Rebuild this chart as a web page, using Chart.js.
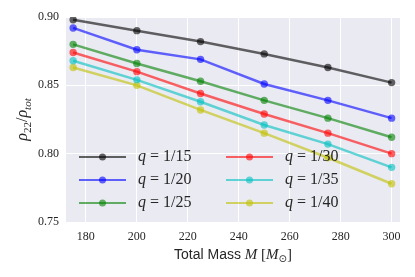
<!DOCTYPE html>
<html>
<head>
<meta charset="utf-8">
<script src="https://cdn.jsdelivr.net/npm/chart.js@4.4.1/dist/chart.umd.min.js"></script>
<style>
  html, body { margin: 0; padding: 0; background: #fff; }
  #wrap { width: 415px; height: 277px; }
</style>
</head>
<body>
<div id="wrap"><canvas id="chart" width="415" height="277"></canvas></div>
<script>
// total mass (solar masses)
const masses = [175, 200, 225, 250, 275, 300];

const ratioLabels = ["q = 1/15", "q = 1/20", "q = 1/25", "q = 1/30", "q = 1/35", "q = 1/40"];

// rho_22 / rho_tot per mass ratio
const q15 = [0.898, 0.890, 0.882, 0.873, 0.863, 0.852];
const q20 = [0.892, 0.876, 0.869, 0.851, 0.839, 0.826];
const q25 = [0.880, 0.866, 0.853, 0.839, 0.826, 0.812];
const q30 = [0.874, 0.860, 0.844, 0.829, 0.815, 0.800];
const q35 = [0.868, 0.854, 0.838, 0.821, 0.807, 0.790];
const q40 = [0.863, 0.850, 0.832, 0.815, 0.797, 0.778];

const xTicks = [180, 200, 220, 240, 260, 280, 300];
const yTicks = [0.75, 0.80, 0.85, 0.90];

const series = [q15, q20, q25, q30, q35, q40];
const colors = [
  "rgba(0,0,0,0.6)",
  "rgba(0,0,255,0.6)",
  "rgba(0,128,0,0.6)",
  "rgba(255,0,0,0.6)",
  "rgba(0,191,191,0.6)",
  "rgba(191,191,0,0.6)"
];

const serif = "'Liberation Serif', 'DejaVu Serif', serif";
const textColor = "#262626";

const background = {
  id: "background",
  beforeDraw(chart) {
    const { ctx, chartArea: a } = chart;
    ctx.save();
    ctx.fillStyle = "#fff";
    ctx.fillRect(0, 0, chart.width, chart.height);
    ctx.fillStyle = "#EAEAF2";
    ctx.fillRect(a.left, a.top, a.right - a.left, a.bottom - a.top);
    ctx.restore();
  }
};

// two-column legend inside the plot, filled column by column
const inlineLegend = {
  id: "inlineLegend",
  afterDatasetsDraw(chart) {
    const { ctx, chartArea: a } = chart;
    const rows = 3;
    ctx.save();
    chart.data.datasets.forEach((ds, i) => {
      const col = Math.floor(i / rows);
      const row = i % rows;
      const x0 = a.left + 13 + col * 147;
      const y = a.top + 140 + row * 23;
      ctx.strokeStyle = ds.borderColor;
      ctx.lineWidth = 2;
      ctx.beginPath();
      ctx.moveTo(x0, y);
      ctx.lineTo(x0 + 47, y);
      ctx.stroke();
      ctx.fillStyle = ds.borderColor;
      ctx.beginPath();
      ctx.arc(x0 + 23.5, y, 3.5, 0, Math.PI * 2);
      ctx.fill();

      ctx.fillStyle = textColor;
      ctx.textBaseline = "middle";
      ctx.textAlign = "left";
      const tx = x0 + 59;
      ctx.font = "italic 16px " + serif;
      ctx.fillText(ds.label[0], tx, y);
      const w = ctx.measureText(ds.label[0]).width;
      ctx.font = "16px " + serif;
      ctx.fillText(ds.label.slice(1), tx + w, y);
    });
    ctx.restore();
  }
};

const axisTitles = {
  id: "axisTitles",
  afterDraw(chart) {
    const { ctx, chartArea: a } = chart;
    ctx.save();
    ctx.fillStyle = textColor;
    ctx.textBaseline = "alphabetic";
    ctx.textAlign = "left";

    // x title: Total Mass M [M_sun]
    const xParts = [
      ["Total Mass ", "14px 'Liberation Sans', 'DejaVu Sans', sans-serif", 0],
      ["M", "italic 15px " + serif, 0],
      [" [", "15px " + serif, 0],
      ["M", "italic 15px " + serif, 0],
      ["\u2299", "10px 'DejaVu Sans', sans-serif", 3],
      ["]", "15px " + serif, 0]
    ];
    let total = 0;
    xParts.forEach(p => { ctx.font = p[1]; total += ctx.measureText(p[0]).width; });
    let x = (a.left + a.right) / 2 - total / 2;
    const yBase = 259;
    xParts.forEach(p => {
      ctx.font = p[1];
      ctx.fillText(p[0], x, yBase + p[2]);
      x += ctx.measureText(p[0]).width;
    });

    // y title: rho_22 / rho_tot
    const yParts = [
      ["\u03c1", "italic 16px " + serif, 0],
      ["22", "11px " + serif, 4],
      ["/", "16px " + serif, 0],
      ["\u03c1", "italic 16px " + serif, 0],
      ["tot", "italic 11px " + serif, 4]
    ];
    total = 0;
    yParts.forEach(p => { ctx.font = p[1]; total += ctx.measureText(p[0]).width; });
    ctx.translate(27, (a.top + a.bottom) / 2);
    ctx.rotate(-Math.PI / 2);
    x = -total / 2;
    yParts.forEach(p => {
      ctx.font = p[1];
      ctx.fillText(p[0], x, p[2]);
      x += ctx.measureText(p[0]).width;
    });
    ctx.restore();
  }
};

new Chart(document.getElementById("chart"), {
  type: "line",
  data: {
    datasets: series.map((vals, i) => ({
      label: ratioLabels[i],
      data: masses.map((m, j) => ({ x: m, y: vals[j] })),
      borderColor: colors[i],
      backgroundColor: colors[i],
      pointBackgroundColor: colors[i],
      pointBorderWidth: 0,
      pointRadius: 3.7,
      borderWidth: 2.5,
      tension: 0,
      fill: false
    }))
  },
  options: {
    responsive: false,
    animation: false,
    devicePixelRatio: 1,
    events: [],
    layout: { padding: { top: 17, right: 15, left: 0, bottom: 0 } },
    plugins: { legend: { display: false }, tooltip: { enabled: false } },
    scales: {
      x: {
        type: "linear",
        min: 172.2,
        max: 303.3,
        afterBuildTicks: s => { s.ticks = xTicks.map(v => ({ value: v })); },
        afterFit: s => { s.height = 55; },
        border: { display: false },
        grid: { color: "#fff", lineWidth: 1, drawTicks: false },
        ticks: {
          color: textColor,
          font: { family: serif, size: 12 },
          padding: 8,
          maxRotation: 0
        }
      },
      y: {
        type: "linear",
        min: 0.75,
        max: 0.90,
        afterBuildTicks: s => { s.ticks = yTicks.map(v => ({ value: v })); },
        afterFit: s => { s.width = 66; },
        border: { display: false },
        grid: { color: "#fff", lineWidth: 1, drawTicks: false },
        ticks: {
          color: textColor,
          font: { family: serif, size: 12 },
          padding: 7,
          callback: v => v.toFixed(2)
        }
      }
    }
  },
  plugins: [background, inlineLegend, axisTitles]
});
</script>
</body>
</html>
